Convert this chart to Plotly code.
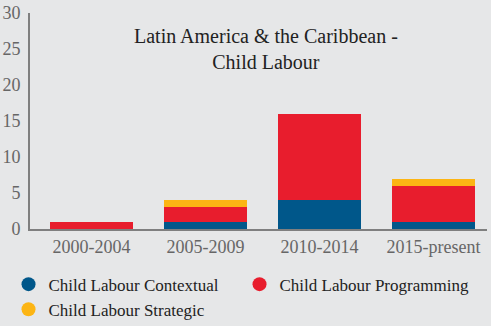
import plotly.graph_objects as go

periods = ["2000-2004", "2005-2009", "2010-2014", "2015-present"]
contextual = [0, 1, 4, 1]
programming = [1, 2, 12, 5]
strategic = [0, 1, 0, 1]

series = [
    ("Child Labour Contextual", contextual, "#00578a"),
    ("Child Labour Programming", programming, "#e81d2d"),
    ("Child Labour Strategic", strategic, "#fcb514"),
]

serif = "Liberation Serif, Times New Roman, serif"
bg = "#e6e7e8"

fig = go.Figure()
for name, vals, color in series:
    fig.add_trace(go.Bar(
        x=periods, y=vals, name=name, marker_color=color,
        marker_line_width=0, showlegend=False,
    ))
# round legend swatches
for name, vals, color in series:
    fig.add_trace(go.Scatter(
        x=[None], y=[None], mode="markers", name=name,
        marker=dict(symbol="circle", size=14, color=color),
    ))

fig.update_layout(
    width=491, height=326,
    barmode="stack", bargap=0.27,
    paper_bgcolor=bg, plot_bgcolor=bg,
    margin=dict(l=30, r=4, t=13, b=97, autoexpand=False),
    font=dict(family=serif, color="#222222"),
    showlegend=True,
    legend=dict(
        orientation="h", traceorder="normal",
        x=-0.047, xanchor="left", y=-0.174, yanchor="top",
        font=dict(size=17, color="#222222"), entrywidth=186, entrywidthmode="pixels",
        itemwidth=30, tracegroupgap=0, bgcolor="rgba(0,0,0,0)",
    ),
    annotations=[dict(
        text="Latin America &amp; the Caribbean -<br>Child Labour",
        x=0.516, y=0.833, xref="paper", yref="paper",
        xanchor="center", yanchor="middle", showarrow=False,
        font=dict(size=20, color="#222222", family=serif),
    )],
)
fig.update_xaxes(
    range=[-0.54, 3.47], showline=True, linecolor="#7f7f7f", linewidth=2,
    ticks="", showgrid=False, tickfont=dict(size=18, color="#666666"),
)
fig.update_yaxes(
    range=[0, 30], dtick=5, showline=True, linecolor="#7f7f7f", linewidth=2,
    ticks="", showgrid=False, zeroline=False, tickfont=dict(size=18, color="#666666"),
    ticklabelstandoff=4,
)

fig.write_html("out.html")
